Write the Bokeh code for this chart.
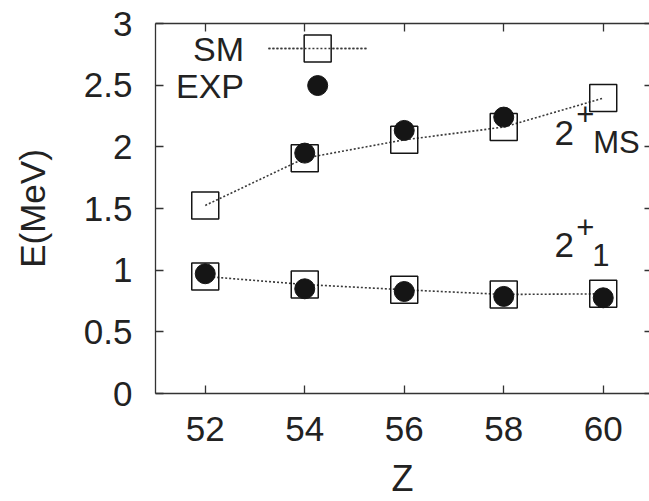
from bokeh.plotting import figure
from bokeh.models import Range1d, LinearAxis, FixedTicker
from bokeh.core.properties import value
from bokeh.embed import file_html
from bokeh.resources import INLINE

# ---- data ----
Z = [52, 54, 56, 58, 60]
SM_MS = [1.525, 1.908, 2.057, 2.160, 2.395]
EXP_MS_Z = [54, 56, 58]
EXP_MS = [1.949, 2.133, 2.241]
SM_21 = [0.949, 0.884, 0.841, 0.803, 0.808]
EXP_21 = [0.971, 0.849, 0.827, 0.787, 0.776]
X_TICKS = [52, 54, 56, 58, 60]
Y_TICKS = [0, 0.5, 1, 1.5, 2, 2.5, 3]
Y_TICK_LABELS = {0: "0", 0.5: "0.5", 1: "1", 1.5: "1.5", 2: "2", 2.5: "2.5", 3: "3"}

FONT = "Liberation Sans"
TXT = "#222222"
MK = "#151515"

p = figure(width=649, height=501, output_backend="svg", toolbar_location=None,
           x_range=Range1d(51, 60.93), y_range=Range1d(0, 3),
           min_border_left=155, min_border_top=23, min_border_bottom=108,
           min_border_right=0)
p.xgrid.visible = False
p.ygrid.visible = False
p.outline_line_color = None
p.background_fill_color = "white"
p.border_fill_color = "white"

for ax in (p.xaxis[0], p.yaxis[0]):
    ax.major_label_text_font = FONT
    ax.major_label_text_font_size = "35px"
    ax.major_label_text_color = TXT
    ax.axis_label_text_font = FONT
    ax.axis_label_text_font_size = "35px"
    ax.axis_label_text_font_style = "normal"
    ax.axis_label_text_color = TXT
    ax.axis_line_color = "#333333"
    ax.axis_line_width = 1.3
    ax.major_tick_line_color = "#333333"
    ax.major_tick_line_width = 1.3
    ax.major_tick_in = 8
    ax.major_tick_out = 0
    ax.minor_tick_line_color = None

p.xaxis[0].ticker = FixedTicker(ticks=X_TICKS)
p.yaxis[0].ticker = FixedTicker(ticks=Y_TICKS)
p.yaxis[0].major_label_overrides = Y_TICK_LABELS
p.xaxis[0].axis_label = "Z"
p.xaxis[0].axis_label_text_font_size = "36px"
p.yaxis[0].axis_label = "E(MeV)"
p.xaxis[0].major_label_standoff = 23
p.yaxis[0].major_label_standoff = 23
p.xaxis[0].axis_label_standoff = 14
p.yaxis[0].axis_label_standoff = 29

# mirror axes (top with line, right ticks only), no labels
top = LinearAxis(ticker=FixedTicker(ticks=X_TICKS),
                 major_label_overrides={t: "" for t in X_TICKS},
                 major_tick_in=8, major_tick_out=0, minor_tick_line_color=None,
                 axis_line_color="#333333", axis_line_width=1.3,
                 major_tick_line_color="#333333", major_tick_line_width=1.3)
p.add_layout(top, "above")
right = LinearAxis(ticker=FixedTicker(ticks=Y_TICKS),
                   major_label_overrides={t: "" for t in Y_TICKS},
                   major_tick_in=5, major_tick_out=0, minor_tick_line_color=None,
                   axis_line_color=None,
                   major_tick_line_color="#333333", major_tick_line_width=1.3)
p.add_layout(right, "right")

# ---- series ----
p.line(Z, SM_MS, line_dash="2 2", line_width=1.6, line_color="#3a3a3a")
p.line(Z, SM_21, line_dash="2 2", line_width=1.6, line_color="#3a3a3a")
p.scatter(Z, SM_MS, marker="square", size=27, fill_color=None, line_color=MK, line_width=1.5)
p.scatter(Z, SM_21, marker="square", size=27, fill_color=None, line_color=MK, line_width=1.5)
p.scatter(EXP_MS_Z, EXP_MS, marker="circle", size=20, fill_color=MK, line_color=MK)
p.scatter(Z, EXP_21, marker="circle", size=20, fill_color=MK, line_color=MK)

# ---- legend (manual, label left of sample) ----
LEG_TEXT_X = 52.78
LEG_SM_Y = 2.797
LEG_EXP_Y = 2.497
LEG_LINE_X = [53.27, 55.24]
LEG_MK_X = 54.26
p.text(x=[LEG_TEXT_X, LEG_TEXT_X], y=[LEG_SM_Y, LEG_EXP_Y], text=["SM", "EXP"],
       text_align="right", text_baseline="middle", text_font=value(FONT),
       text_font_size="34px", text_color=TXT)
p.line(LEG_LINE_X, [LEG_SM_Y, LEG_SM_Y], line_dash="2 2", line_width=1.6, line_color="#3a3a3a")
p.scatter([LEG_MK_X], [LEG_SM_Y], marker="square", size=27, fill_color="white",
          line_color=MK, line_width=1.5)
p.line(LEG_LINE_X, [LEG_SM_Y, LEG_SM_Y], line_dash="2 2", line_width=1.6, line_color="#3a3a3a")
p.scatter([LEG_MK_X], [LEG_EXP_Y], marker="circle", size=20, fill_color=MK, line_color=MK)

# ---- state annotations ----
p.text(x=[59.02, 59.02], y=[2.116, 1.208], text=["2", "2"], text_baseline="alphabetic",
       text_font=value(FONT), text_font_size="35px", text_color=TXT)
p.text(x=[59.46, 59.46], y=[2.266, 1.346], text=["+", "+"], text_baseline="alphabetic",
       text_font=value(FONT), text_font_size="31px", text_color=TXT)
p.text(x=[59.80, 59.78], y=[2.035, 1.120], text=["MS", "1"], text_baseline="alphabetic",
       text_font=value(FONT), text_font_size="31px", text_color=TXT)

open("out.html", "w").write(file_html(p, INLINE))
